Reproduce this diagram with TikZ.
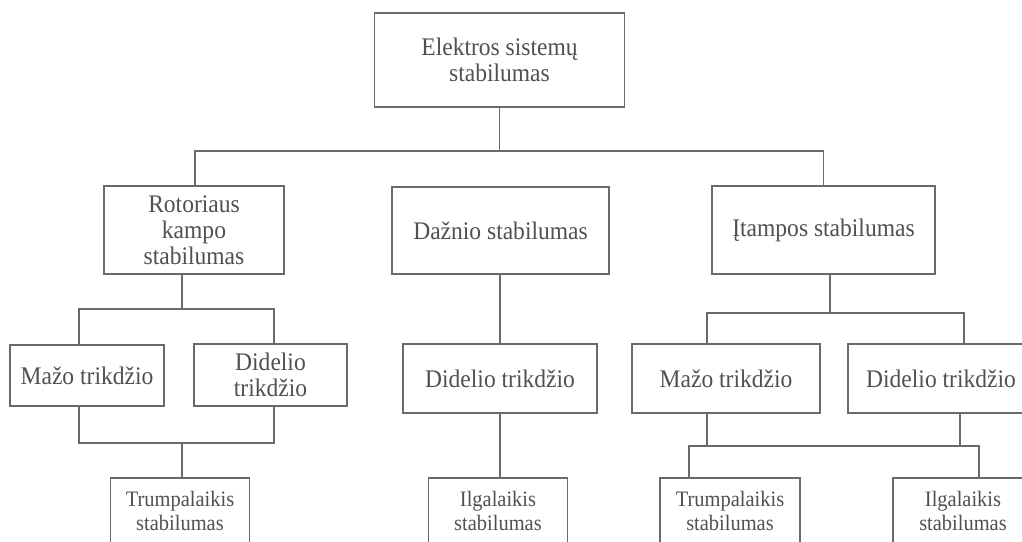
\documentclass[tikz,border=0pt]{standalone}
\usepackage{fontspec}
\setmainfont{Liberation Serif}[FakeStretch=0.93]
\definecolor{linegray}{RGB}{105,105,105}
\definecolor{textgray}{RGB}{80,80,80}
\tikzset{
  box/.style={draw=linegray, line width=1.8pt, rectangle, inner sep=0pt, outer sep=0pt, align=center,
    text=textgray, font=\fontsize{25.3}{26}\selectfont},
  smallbox/.style={box, font=\fontsize{22}{24}\selectfont},
  conn/.style={draw=linegray, line width=1.8pt}
}
\begin{document}
\begin{tikzpicture}[x=1pt,y=-1pt]
\useasboundingbox (0,0) rectangle (1022,541);
\clip (0,0) rectangle (1022,541);
% level 1
\node[box, minimum width=250pt, minimum height=94pt] (top) at (499.5,60) {Elektros sistemų\\stabilumas};
% level 2
\node[box, minimum width=180pt, minimum height=88pt] (rot) at (194,230) {Rotoriaus\\kampo\\stabilumas};
\node[box, minimum width=217pt, minimum height=87pt] (daz) at (500.5,230.5) {Dažnio stabilumas};
\node[box, minimum width=223pt, minimum height=88pt] (itm) at (823.5,230) {\smash{Į}tampos stabilumas};
% level 3
\node[box, minimum width=154pt, minimum height=61pt] (maz1) at (87,375.5) {Mažo trikdžio};
\node[box, minimum width=153pt, minimum height=62pt] (did1) at (270.5,375) {Didelio\\trikdžio};
\node[box, minimum width=194pt, minimum height=69pt] (did2) at (500,378.5) {Didelio trikdžio};
\node[box, minimum width=188pt, minimum height=69pt] (maz3) at (726,378.5) {Mažo trikdžio};
\node[box, minimum width=186pt, minimum height=69pt] (did3) at (941,378.5) {Didelio trikdžio};
% level 4
\node[smallbox, minimum width=139pt, minimum height=66pt] (tr1) at (180,511) {Trumpalaikis\\stabilumas};
\node[smallbox, minimum width=139pt, minimum height=66pt] (il2) at (498,511) {Ilgalaikis\\stabilumas};
\node[smallbox, minimum width=140pt, minimum height=66pt] (tr3) at (730,511) {Trumpalaikis\\stabilumas};
\node[smallbox, minimum width=140pt, minimum height=66pt] (il3) at (963,511) {Ilgalaikis\\stabilumas};
% connectors top
\draw[conn] (top.south) -- ++(0,44) coordinate (j1);
\draw[conn] ([xshift=1pt]rot.north) |- (j1) -| (itm.north);
% rotor branch
\draw[conn] ([xshift=-12pt]rot.south) -- ++(0,35) coordinate (j2);
\draw[conn] ([xshift=-8pt]maz1.north) |- (j2) -| ([xshift=3.5pt]did1.north);
\draw[conn] ([xshift=-8pt]maz1.south) -- ++(0,37) -| ([xshift=3.5pt]did1.south);
\draw[conn] ([xshift=2pt]tr1.north) -- ++(0,-35);
% frequency branch
\draw[conn] (did2.north) -- (did2.north |- daz.south);
\draw[conn] (did2.south) -- (did2.south |- il2.north);
% voltage branch
\draw[conn] ([xshift=6.5pt]itm.south) -- ++(0,39) coordinate (j5);
\draw[conn] ([xshift=-19pt]maz3.north) |- (j5) -| ([xshift=23pt]did3.north);
\draw[conn] ([xshift=-19pt]maz3.south) -- ++(0,33) -| ([xshift=19pt]did3.south);
\draw[conn] ([xshift=-41pt]tr3.north) -- ++(0,-32) -| ([xshift=16pt]il3.north);
\end{tikzpicture}
\end{document}
